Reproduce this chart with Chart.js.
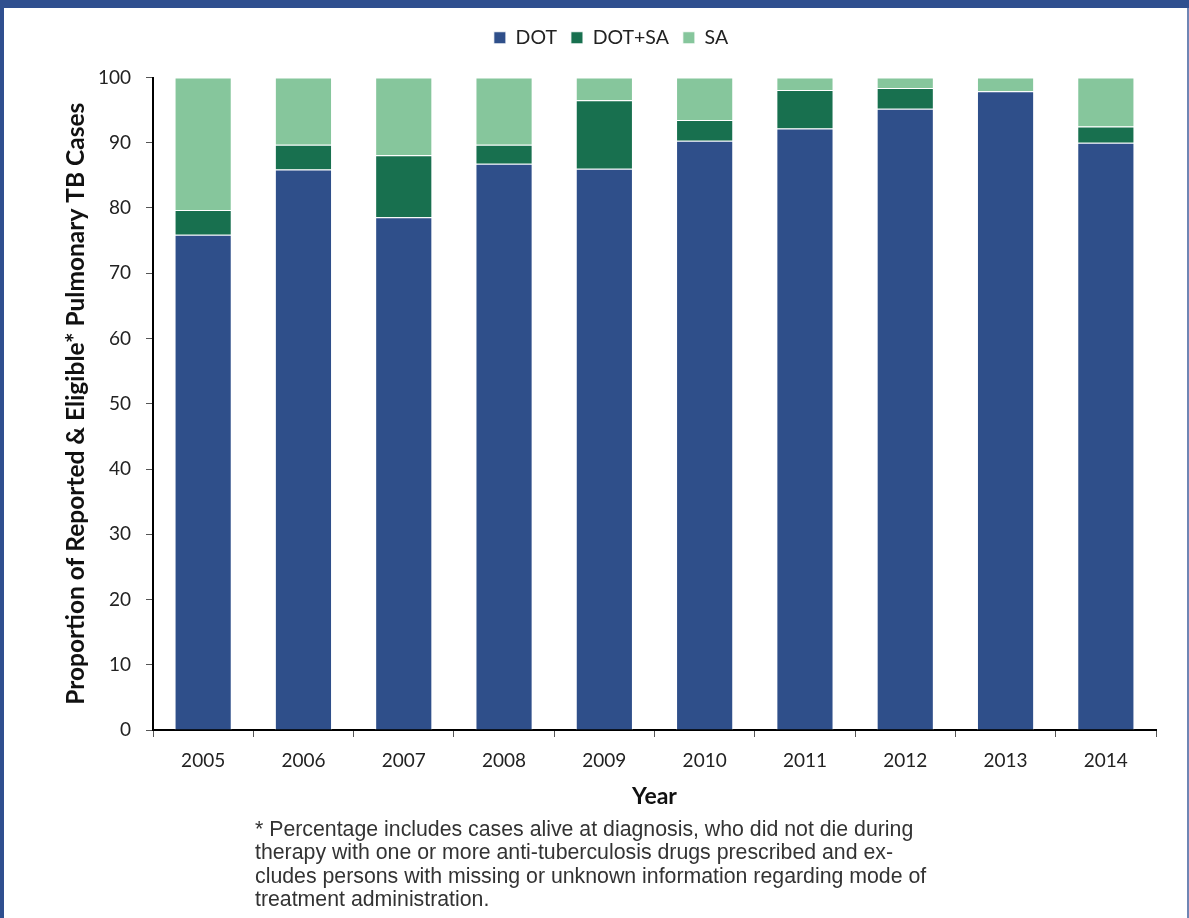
<!DOCTYPE html>
<html>
<head>
<meta charset="utf-8">
<script src="https://cdn.jsdelivr.net/npm/chart.js@4.4.1/dist/chart.umd.min.js"></script>
<style>
  body { margin: 0; background: #fff; }
  #wrap { position: absolute; left: 0; top: 0; width: 1189px; height: 918px; }
  .frame { position: absolute; background: #2f4f8f; }
  #note {
    position: absolute; left: 255px; top: 818px; width: 720px;
    font-family: "Liberation Sans", Arial, sans-serif; font-size: 21.3px;
    line-height: 23.4px; color: #333;
  }
</style>
</head>
<body>
<div id="wrap"><canvas id="tbChart"></canvas></div>
<div class="frame" style="left:0;top:0;width:1189px;height:8px"></div>
<div class="frame" style="left:0;top:0;width:4px;height:918px"></div>
<div class="frame" style="left:1187px;top:8px;width:2px;height:910px;background:#6f86b4"></div>
<div id="note">* Percentage includes cases alive at diagnosis, who did not die during<br>therapy with one or more anti-tuberculosis drugs prescribed and ex-<br>cludes persons with missing or unknown information regarding mode of<br>treatment administration.</div>
<script>
const years = ["2005", "2006", "2007", "2008", "2009", "2010", "2011", "2012", "2013", "2014"];
const dot   = [75.9, 85.9, 78.6, 86.8, 86.0, 90.3, 92.2, 95.2, 97.9, 90.0];
const dotSa = [3.8, 3.8, 9.5, 2.9, 10.5, 3.2, 5.9, 3.2, 0, 2.5];
const sa    = [20.3, 10.3, 11.9, 10.3, 3.5, 6.5, 1.9, 1.6, 2.1, 7.5];
const yTicks = [0, 10, 20, 30, 40, 50, 60, 70, 80, 90, 100];

const FONT = "Lato, 'Open Sans', sans-serif";

// push the plot area down below the legend, and nudge the legend right
const legendGap = {
  id: "legendGap",
  beforeInit(chart) {
    const fit = chart.legend.fit;
    chart.legend.fit = function () {
      fit.bind(chart.legend)();
      this.height += 20;
    };
  },
  afterLayout(chart) {
    chart.legend.left += 33;
    chart.legend.right += 33;
  }
};

function series(label, data, color) {
  return {
    label: label,
    data: data,
    backgroundColor: color,
    borderColor: "rgba(255,255,255,0.85)",
    borderWidth: 1,
    borderSkipped: "bottom",
    barPercentage: 0.57,
    categoryPercentage: 1
  };
}

new Chart(document.getElementById("tbChart"), {
  type: "bar",
  data: {
    labels: years,
    datasets: [
      series("DOT", dot, "#2f4f8a"),
      series("DOT+SA", dotSa, "#18704f"),
      series("SA", sa, "#86c69c")
    ]
  },
  options: {
    responsive: true,
    maintainAspectRatio: false,
    animation: false,
    layout: { padding: { top: 14, left: 0, right: 33, bottom: 106 } },
    plugins: {
      legend: {
        position: "top",
        labels: {
          boxWidth: 12, boxHeight: 12, padding: 14,
          color: "#222", font: { family: FONT, size: 19.5 }
        }
      },
      tooltip: { enabled: false }
    },
    scales: {
      x: {
        stacked: true,
        border: { color: "#000", width: 2 },
        grid: { drawOnChartArea: false, drawTicks: true, tickLength: 7, color: "#555" },
        ticks: { color: "#222", padding: 12, font: { family: FONT, size: 19 } },
        title: {
          display: true, text: "Year", color: "#111",
          font: { family: FONT, size: 23, weight: "bold" },
          padding: { top: 0, bottom: 2 }
        },
        afterFit(scale) { scale.height = 82; }
      },
      y: {
        stacked: true,
        min: 0, max: 100,
        afterBuildTicks(scale) { scale.ticks = yTicks.map(v => ({ value: v })); },
        border: { color: "#000", width: 2 },
        grid: { drawOnChartArea: false, drawTicks: true, tickLength: 7, color: "#555" },
        ticks: { color: "#222", padding: 15, font: { family: FONT, size: 19 } },
        title: {
          display: true, text: "Proportion of Reported & Eligible* Pulmonary TB Cases", color: "#111",
          font: { family: FONT, size: 24.5, weight: "bold" },
          padding: { top: 61, bottom: 0 }
        },
        afterFit(scale) { scale.width = 153; }
      }
    }
  },
  plugins: [legendGap]
});
</script>
</body>
</html>
